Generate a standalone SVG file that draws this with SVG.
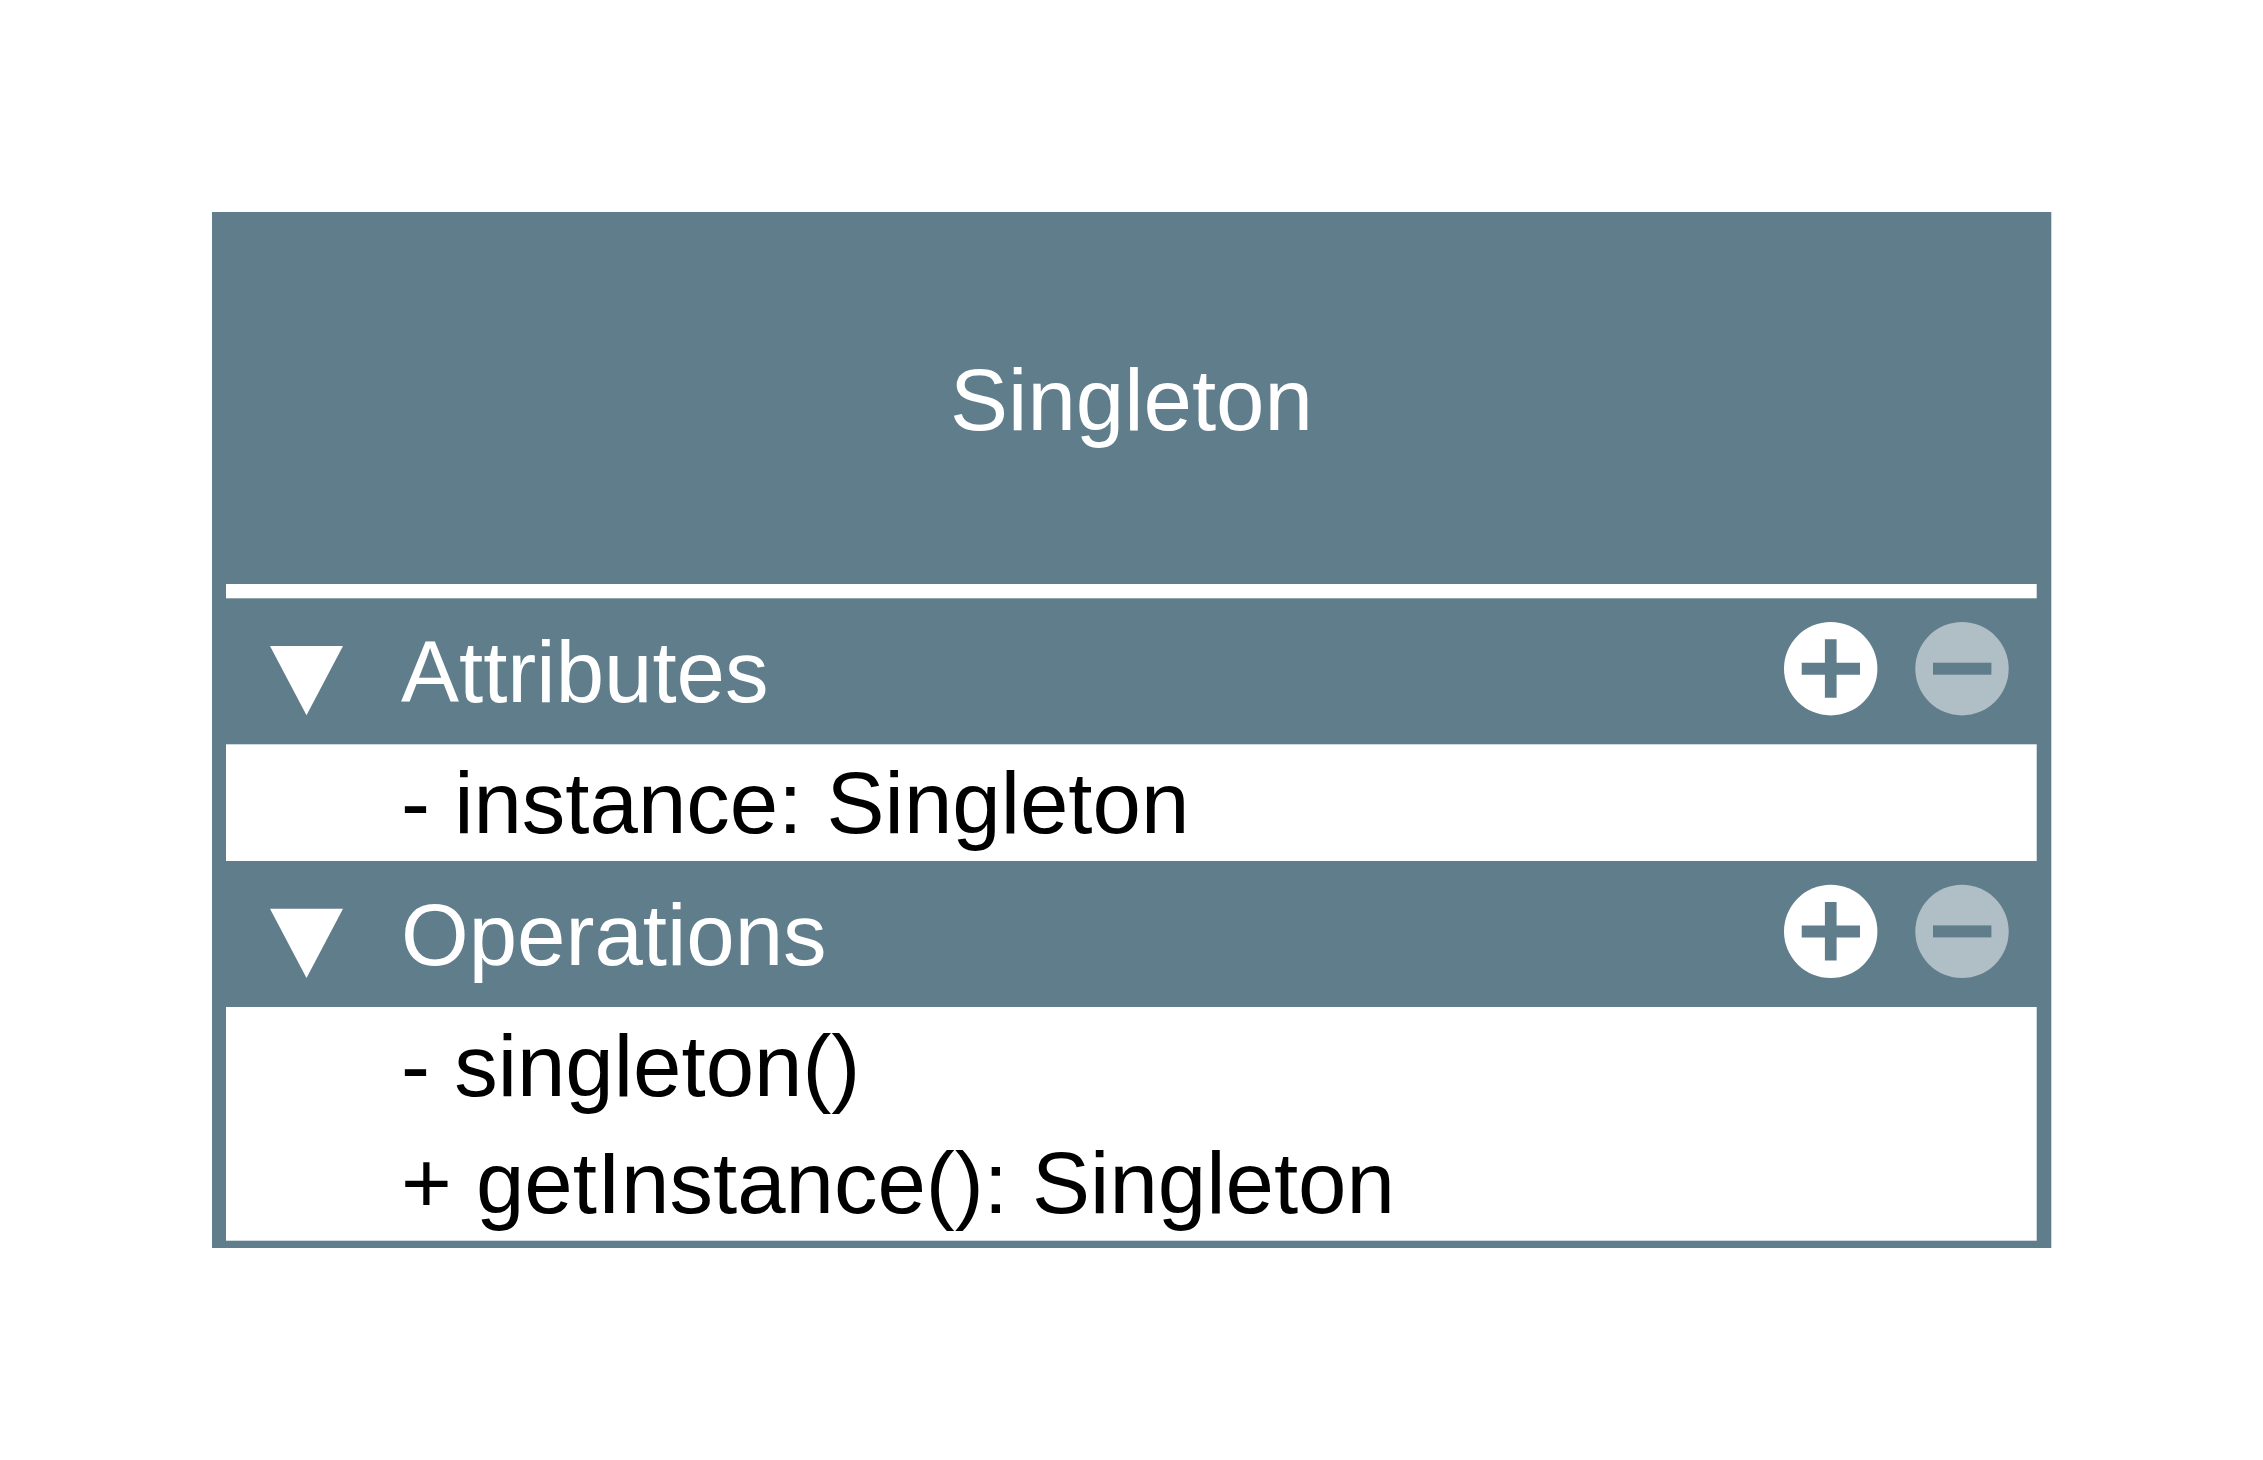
<svg xmlns="http://www.w3.org/2000/svg" width="2263" height="1460" viewBox="0 0 2263 1460">
<style>
.t{font-family:"Liberation Sans",Arial,sans-serif;font-size:87px}
.w{fill:#fff}
.k{fill:#000}
.b{fill:#607d8b}
.m{fill:#b0bec5}
</style>
<defs>
<g id="header-icons">
<path class="w" d="M270 646H343L306.500 715.300Z"/>
<circle class="w" cx="1830.700" cy="668.700" r="46.700"/>
<path class="b" d="M1824.900 639.300h11.700v23.400h23.400v12h-23.400v23h-11.700v-23h-23.200v-12h23.200z"/>
<circle class="m" cx="1962" cy="668.700" r="46.700"/>
<rect class="b" x="1933" y="662.700" width="58.400" height="12"/>
</g>
</defs>
<rect width="2263" height="1460" fill="#fff"/>
<g id="singleton-class">
<rect class="b" x="212" y="212" width="1839.300" height="1036"/>
<rect class="w" x="226" y="584" width="1810.700" height="14.300"/>
<rect class="w" x="226" y="744.300" width="1810.700" height="116.700"/>
<rect class="w" x="226" y="1007" width="1810.700" height="233.700"/>
<text class="t w" x="1131.500" y="430" text-anchor="middle">Singleton</text>
</g>
<g id="attributes">
<use href="#header-icons"/>
<text class="t w" x="401" y="702.300">Attributes</text>
<text class="t k" x="401" y="833">- instance: Singleton</text>
</g>
<g id="operations">
<use href="#header-icons" y="262.700"/>
<text class="t w" x="401" y="965">Operations</text>
<text class="t k" x="401" y="1096">- singleton()</text>
<text class="t k" x="401" y="1213">+ getInstance(): Singleton</text>
</g>
</svg>
